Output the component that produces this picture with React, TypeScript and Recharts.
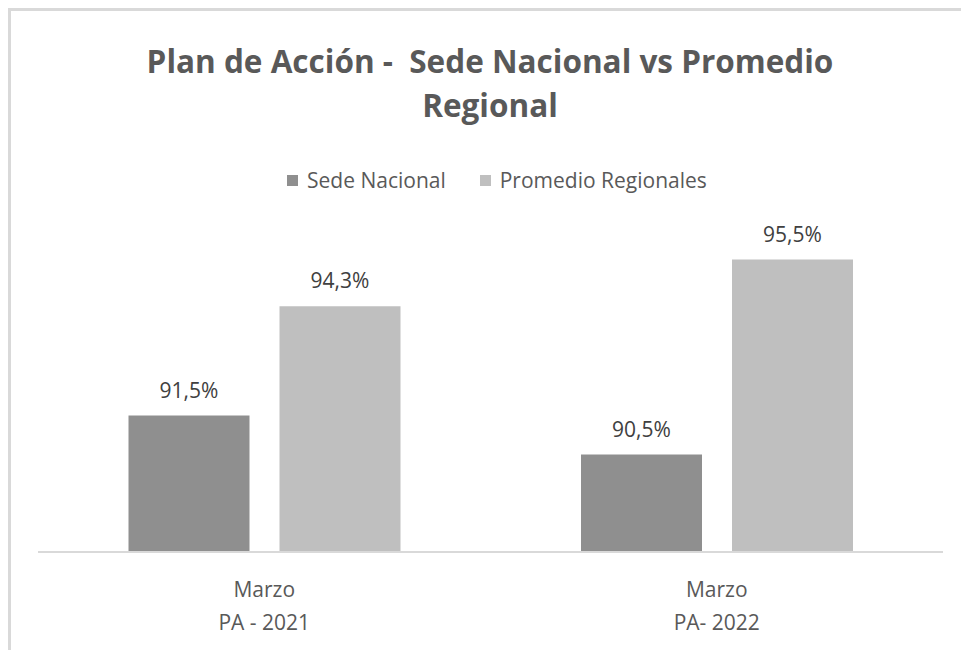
import React from 'react';
import { BarChart, Bar, XAxis, YAxis, Legend, LabelList } from 'recharts';

const categories = ['Marzo\nPA - 2021', 'Marzo\nPA- 2022'];
const sedeNacional = [91.5, 90.5];
const promedioRegionales = [94.3, 95.5];
const seriesNames = ['Sede Nacional', 'Promedio Regionales'];
const titleLines = ['Plan de Acción -  Sede Nacional vs Promedio', 'Regional'];

const data = categories.map((c, i) => ({
  name: c,
  sede: sedeNacional[i],
  prom: promedioRegionales[i],
}));

const FONT = "'Open Sans', sans-serif";
const colors = ['#8f8f8f', '#bfbfbf'];

const fmt = (v: any) => Number(v).toFixed(1).replace('.', ',') + '%';

const CategoryTick = (props: any) => {
  const { x, y, payload } = props;
  const lines = String(payload.value).split('\n');
  return (
    <g>
      {lines.map((l, i) => (
        <text key={i} x={x} y={y + 37 + i * 33} textAnchor="middle" fill="#595959" fontSize={21} fontFamily={FONT}>
          {l}
        </text>
      ))}
    </g>
  );
};

const LegendContent = () => (
  <div style={{ display: 'flex', justifyContent: 'flex-start', fontFamily: FONT, fontSize: 21, color: '#595959' }}>
    {seriesNames.map((n, i) => (
      <div key={n} style={{ display: 'flex', alignItems: 'center', marginLeft: i === 0 ? 287 : 34 }}>
        <span style={{ width: 11, height: 11, background: colors[i], display: 'inline-block', marginRight: 9 }} />
        <span>{n}</span>
      </div>
    ))}
  </div>
);

export default function App() {
  return (
    <div style={{ position: 'fixed', top: 0, left: 0, width: 961, height: 650, background: '#fff', overflow: 'hidden' }}>
      <div style={{ position: 'absolute', left: 8, top: 8, width: 1000, height: 800, border: '3px solid #d9d9d9', boxSizing: 'border-box' }} />
      <svg width={961} height={130} style={{ position: 'absolute', left: 0, top: 0 }}>
        {titleLines.map((t, i) => (
          <text key={i} x={490} y={73 + i * 44} textAnchor="middle" fill="#595959" fontSize={31.5} fontWeight="bold" fontFamily={FONT} style={{ whiteSpace: 'pre' }}>
            {t}
          </text>
        ))}
      </svg>
      <div style={{ position: 'absolute', left: 0, top: 0 }}>
        <BarChart width={961} height={650} data={data} margin={{ top: 240, right: 18, bottom: 0, left: 38 }} barCategoryGap="20%" barGap={30}>
          <XAxis dataKey="name" height={98} axisLine={{ stroke: '#d9d9d9', strokeWidth: 2 }} tickLine={false} tick={<CategoryTick />} interval={0} />
          <YAxis hide domain={[88, 96]} />
          <Legend verticalAlign="middle" layout="horizontal" content={<LegendContent />} wrapperStyle={{ top: 166, left: 0, width: 961 }} />
          <Bar dataKey="sede" name={seriesNames[0]} fill={colors[0]} isAnimationActive={false}>
            <LabelList dataKey="sede" position="top" offset={18} formatter={fmt} fill="#404040" fontSize={21} fontFamily={FONT} />
          </Bar>
          <Bar dataKey="prom" name={seriesNames[1]} fill={colors[1]} isAnimationActive={false}>
            <LabelList dataKey="prom" position="top" offset={18} formatter={fmt} fill="#404040" fontSize={21} fontFamily={FONT} />
          </Bar>
        </BarChart>
      </div>
    </div>
  );
}
